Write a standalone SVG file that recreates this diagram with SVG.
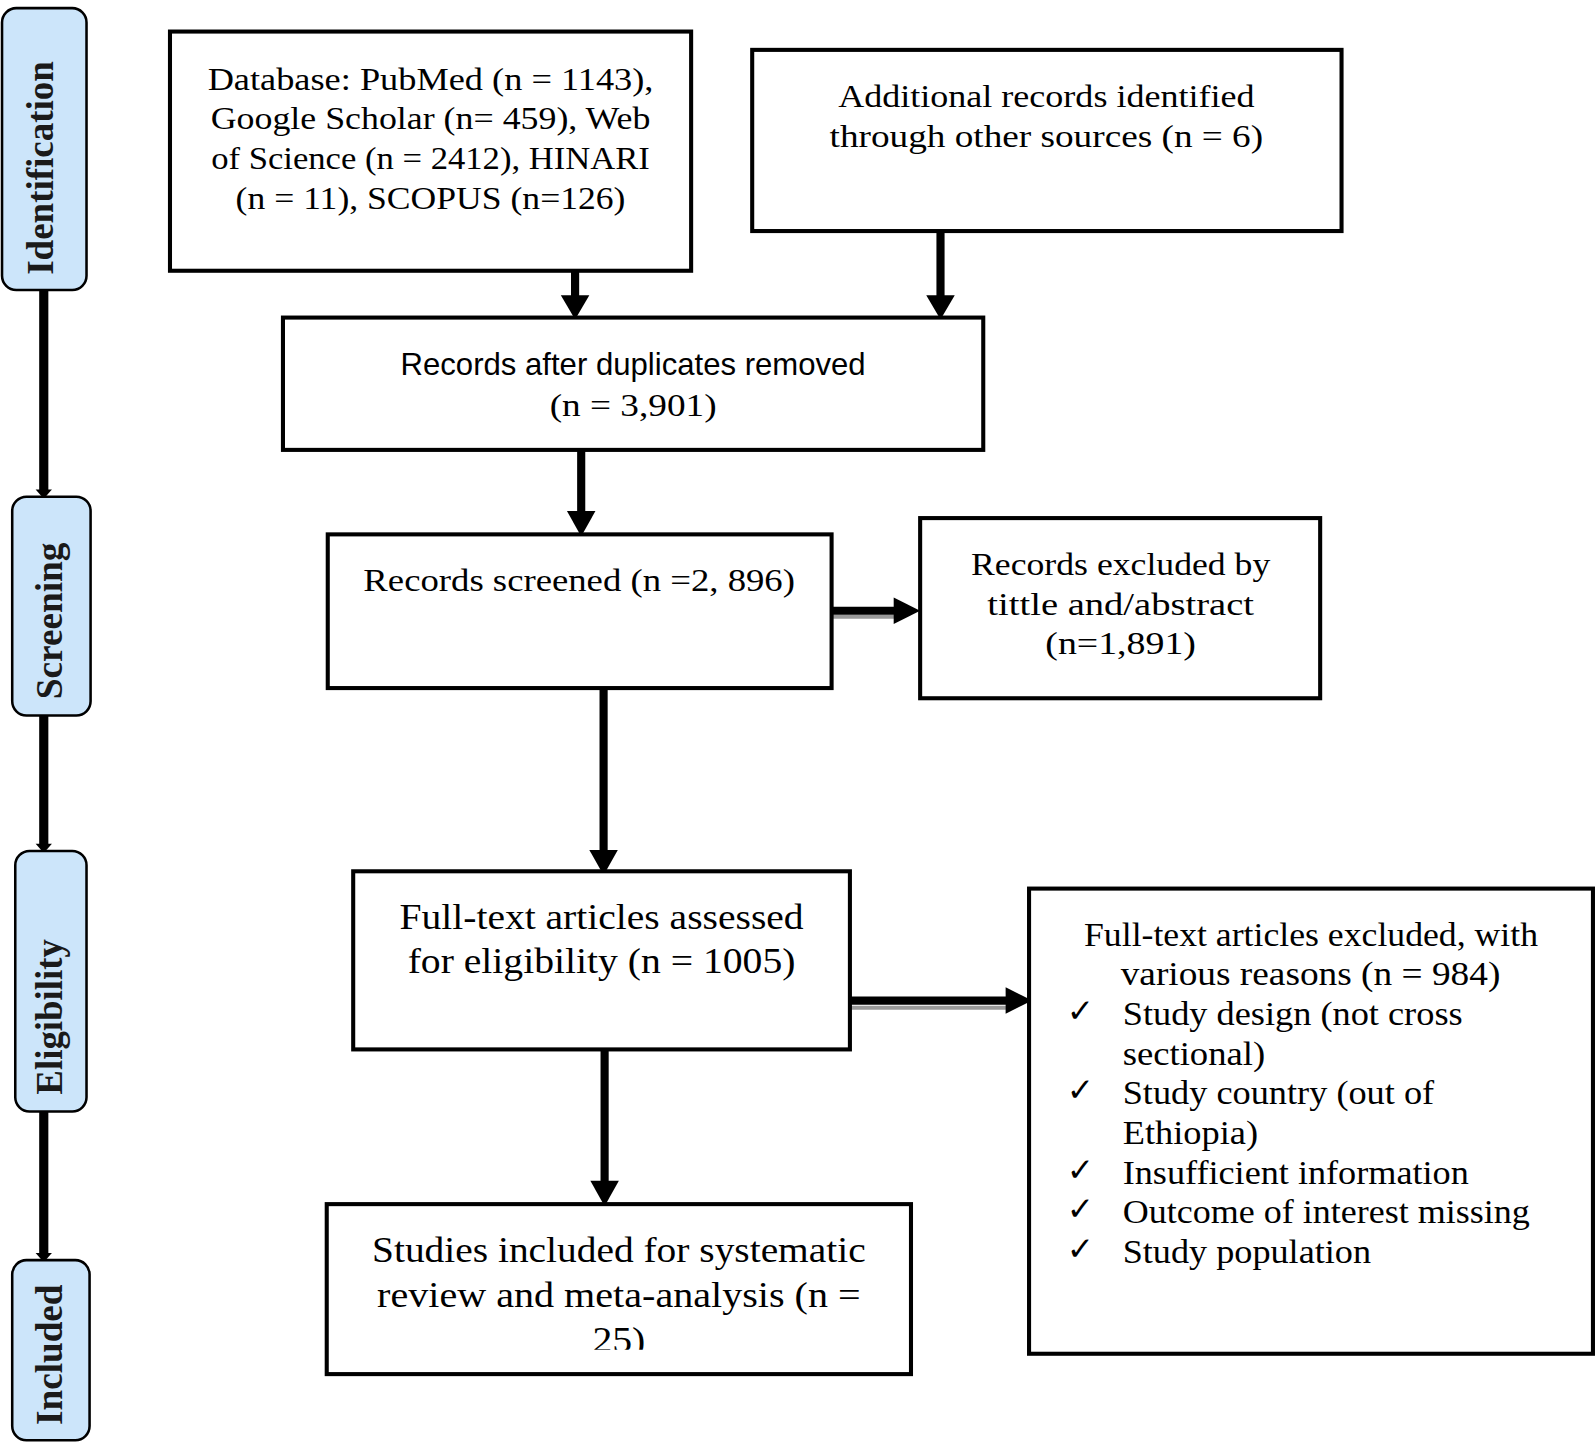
<svg xmlns="http://www.w3.org/2000/svg" width="1596" height="1442" viewBox="0 0 1596 1442">
<style>
.phase{fill:#CCE5FA;stroke:#000;stroke-width:2.5}
.ptxt{font-family:"Liberation Serif",serif;font-weight:bold;font-size:38px;fill:#1a1a1a;text-anchor:middle}
.box{fill:#fff;stroke:#000;stroke-width:4}
.t{font-family:"Liberation Serif",serif;font-size:31px;fill:#000;text-anchor:middle}
.ts{font-family:"Liberation Sans",sans-serif;font-size:30px;fill:#000;text-anchor:middle}
.tl{font-family:"Liberation Serif",serif;font-size:33px;fill:#000}
.ck{font-family:"DejaVu Sans",sans-serif;font-size:32px;fill:#000}
.pc{stroke:#000;stroke-width:9;stroke-linecap:round}
.shaft{stroke:#000;stroke-width:8}
.shadow{stroke:#9a9a9a;stroke-width:4}
.tipmark{fill:#a0a0a0}
</style>
<defs>
<clipPath id="clipInc"><rect x="321" y="1183" width="574" height="143"/></clipPath>
</defs>
<rect width="1596" height="1442" fill="#fff"/>
<g transform="scale(1.01786)">
<g id="phase-connectors">
<line class="pc" x1="43" y1="285" x2="43" y2="482"/>
<polygon points="35,481 51,481 43,490"/>
<line class="pc" x1="43" y1="703" x2="43" y2="830"/>
<polygon points="35,829 51,829 43,838"/>
<line class="pc" x1="43" y1="1092" x2="43" y2="1232"/>
<polygon points="35,1231 51,1231 43,1240"/>
</g>
<g id="phase-identification">
<rect class="phase" x="2" y="8" width="83" height="277" rx="14"/>
<text class="ptxt" transform="translate(52,165) rotate(-90)" textLength="210" lengthAdjust="spacingAndGlyphs">Identification</text>
</g>
<g id="phase-screening">
<rect class="phase" x="12" y="488" width="77" height="215" rx="14"/>
<text class="ptxt" transform="translate(61,610) rotate(-90)" textLength="154" lengthAdjust="spacingAndGlyphs">Screening</text>
</g>
<g id="phase-eligibility">
<rect class="phase" x="15" y="836" width="70" height="256" rx="14"/>
<text class="ptxt" transform="translate(61,999) rotate(-90)" textLength="153" lengthAdjust="spacingAndGlyphs">Eligibility</text>
</g>
<g id="phase-included">
<rect class="phase" x="12" y="1238" width="76" height="177" rx="14"/>
<text class="ptxt" transform="translate(61,1331) rotate(-90)" textLength="138" lengthAdjust="spacingAndGlyphs">Included</text>
</g>

<g id="connectors">
<line class="shaft" x1="565" y1="262" x2="565" y2="292"/>
<polygon points="551,290 579,290 565,314"/>
<rect class="tipmark" x="562" y="314" width="6" height="5"/>
<line class="shaft" x1="924" y1="224" x2="924" y2="292"/>
<polygon points="910,290 938,290 924,314"/>
<rect class="tipmark" x="921" y="314" width="6" height="5"/>
<line class="shaft" x1="571" y1="427" x2="571" y2="504"/>
<polygon points="557,502 585,502 571,527"/>
<rect class="tipmark" x="568" y="527" width="6" height="5"/>
<line class="shadow" x1="817" y1="606" x2="880" y2="606"/>
<line class="shaft" x1="817" y1="600" x2="880" y2="600"/>
<polygon points="878,587 878,613 904,600"/>
<line class="shadow" x1="835" y1="990" x2="990" y2="990"/>
<line class="shaft" x1="835" y1="983" x2="990" y2="983"/>
<polygon points="988,970 988,996 1014,983"/>
<line class="shaft" x1="593" y1="676" x2="593" y2="837"/>
<polygon points="579,835 607,835 593,860"/>
<rect class="tipmark" x="590" y="860" width="6" height="5"/>
<line class="shaft" x1="594" y1="1031" x2="594" y2="1162"/>
<polygon points="580,1160 608,1160 594,1185"/>
<rect class="tipmark" x="591" y="1185" width="6" height="5"/>
</g>

<g id="node-database">
<rect class="box" x="167" y="31" width="512" height="235"/>
<text class="t" x="423" y="88" textLength="438" lengthAdjust="spacingAndGlyphs">Database: PubMed (n = 1143),</text>
<text class="t" x="423" y="127" textLength="432" lengthAdjust="spacingAndGlyphs">Google Scholar (n= 459), Web</text>
<text class="t" x="423" y="166" textLength="431" lengthAdjust="spacingAndGlyphs">of Science (n = 2412), HINARI</text>
<text class="t" x="423" y="205" textLength="383" lengthAdjust="spacingAndGlyphs">(n = 11), SCOPUS (n=126)</text>
</g>
<g id="node-additional">
<rect class="box" x="739" y="49" width="579" height="178"/>
<text class="t" x="1028" y="105" textLength="409" lengthAdjust="spacingAndGlyphs">Additional records identified</text>
<text class="t" x="1028" y="144" textLength="426" lengthAdjust="spacingAndGlyphs">through other sources (n = 6)</text>
</g>
<g id="node-duplicates">
<rect class="box" x="278" y="312" width="688" height="130"/>
<text class="ts" x="622" y="368" textLength="457" lengthAdjust="spacingAndGlyphs">Records after duplicates removed</text>
<text class="t" x="622" y="409" textLength="164" lengthAdjust="spacingAndGlyphs">(n = 3,901)</text>
</g>
<g id="node-screened">
<rect class="box" x="322" y="525" width="495" height="151"/>
<text class="t" x="569" y="581" textLength="424" lengthAdjust="spacingAndGlyphs">Records screened (n =2, 896)</text>
</g>
<g id="node-excluded-title">
<rect class="box" x="904" y="509" width="393" height="177"/>
<text class="t" x="1101" y="565" textLength="294" lengthAdjust="spacingAndGlyphs">Records excluded by</text>
<text class="t" x="1101" y="604" textLength="262" lengthAdjust="spacingAndGlyphs">tittle and/abstract</text>
<text class="t" x="1101" y="643" textLength="148" lengthAdjust="spacingAndGlyphs">(n=1,891)</text>
</g>
<g id="node-fulltext">
<rect class="box" x="347" y="856" width="488" height="175"/>
<text class="t" style="font-size:35px" x="591" y="913" textLength="397" lengthAdjust="spacingAndGlyphs">Full-text articles assessed</text>
<text class="t" style="font-size:35px" x="591" y="956" textLength="381" lengthAdjust="spacingAndGlyphs">for eligibility (n = 1005)</text>
</g>
<g id="node-fulltext-excluded">
<rect class="box" x="1011" y="873" width="554" height="457"/>
<text class="tl" x="1065" y="929" textLength="446" lengthAdjust="spacingAndGlyphs">Full-text articles excluded, with</text>
<text class="tl" x="1101" y="968" textLength="373" lengthAdjust="spacingAndGlyphs">various reasons (n = 984)</text>
<text class="ck" x="1048" y="1004">✓</text>
<text class="tl" x="1103" y="1007" textLength="334" lengthAdjust="spacingAndGlyphs">Study design (not cross</text>
<text class="tl" x="1103" y="1046" textLength="140" lengthAdjust="spacingAndGlyphs">sectional)</text>
<text class="ck" x="1048" y="1082">✓</text>
<text class="tl" x="1103" y="1085" textLength="306" lengthAdjust="spacingAndGlyphs">Study country (out of</text>
<text class="tl" x="1103" y="1124" textLength="133" lengthAdjust="spacingAndGlyphs">Ethiopia)</text>
<text class="ck" x="1048" y="1160">✓</text>
<text class="tl" x="1103" y="1163" textLength="340" lengthAdjust="spacingAndGlyphs">Insufficient information</text>
<text class="ck" x="1048" y="1199">✓</text>
<text class="tl" x="1103" y="1202" textLength="400" lengthAdjust="spacingAndGlyphs">Outcome of interest missing</text>
<text class="ck" x="1048" y="1238">✓</text>
<text class="tl" x="1103" y="1241" textLength="244" lengthAdjust="spacingAndGlyphs">Study population</text>
</g>
<g id="node-included">
<rect class="box" x="321" y="1183" width="574" height="167"/>
<text class="t" style="font-size:35px" x="608" y="1240" textLength="485" lengthAdjust="spacingAndGlyphs">Studies included for systematic</text>
<text class="t" style="font-size:35px" x="608" y="1284" textLength="475" lengthAdjust="spacingAndGlyphs">review and meta-analysis (n =</text>
<text class="t" style="font-size:35px" x="608" y="1328" textLength="52" lengthAdjust="spacingAndGlyphs" clip-path="url(#clipInc)">25)</text>
</g>
</g>
</svg>
